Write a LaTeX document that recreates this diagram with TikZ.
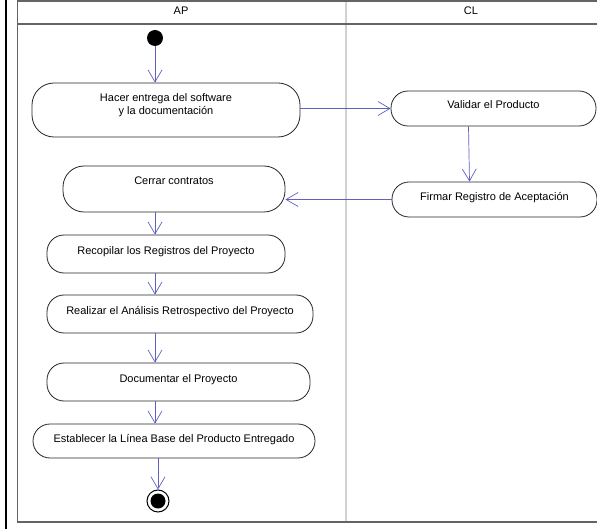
\documentclass[tikz,border=0pt]{standalone}
\usepackage{fontspec}
\setmainfont{Liberation Sans}
\usetikzlibrary{arrows.meta}
\definecolor{flujo}{RGB}{96,96,192}
\definecolor{marco}{RGB}{100,100,100}
\begin{document}
\begin{tikzpicture}[x=1pt,y=-1pt,font=\fontsize{11}{13}\selectfont,
  accion/.style={draw=black!85,fill=white,rounded corners=17pt,align=center,inner sep=0pt,line width=0.8pt,text depth=7pt},
  flecha/.style={draw=flujo,line width=0.7pt,-{Straight Barb[length=12pt,width=14pt]}}]
\useasboundingbox (0,0) rectangle (597,529);
\fill[black] (4.8,0) rectangle (7.2,529);
\draw[black!18,line width=2pt] (346,1) -- (346,522);
\draw[marco,line width=1.5pt] (597,1) -- (17.5,1) -- (17.5,522) -- (597,522)  (17.5,24) -- (597,24);
\node (ap) at (181,11) {AP};
\node (cl) at (471,11) {CL};
\coordinate (eje) at (155,0);
\node[circle,fill=black,minimum size=16pt,inner sep=0pt] (inicio) at (155,38) {};
\node[accion,minimum width=268pt,minimum height=54pt,text depth=11pt,rounded corners=22pt] (hacer) at (166,110) {Hacer entrega del software\\y la documentaci\'on};
\node[accion,minimum width=205pt,minimum height=35pt] (validar) at (493.5,108.5) {Validar el Producto};
\node[accion,minimum width=222pt,minimum height=46pt,text depth=16pt,rounded corners=21pt] (cerrar) at (174,189) {Cerrar contratos};
\node[accion,minimum width=205pt,minimum height=35pt] (firmar) at (494.5,199.5) {Firmar Registro de Aceptaci\'on};
\node[accion,minimum width=238pt,minimum height=38pt] (recopilar) at (166,254) {Recopilar los Registros del Proyecto};
\node[accion,minimum width=266pt,minimum height=38pt] (realizar) at (180,314) {Realizar el An\'alisis Retrospectivo del Proyecto};
\node[accion,minimum width=263pt,minimum height=38pt] (documentar) at (178.5,382) {Documentar el Proyecto};
\node[accion,minimum width=282pt,minimum height=34pt,text depth=5pt] (establecer) at (174,441) {Establecer la L\'inea Base del Producto Entregado};
\node[circle,draw=black,line width=1pt,minimum size=22pt,inner sep=0pt] (fin) at (158,501) {};
\fill[black] (fin.center) circle (7.5pt);
\draw[flecha] (inicio) -- (inicio |- hacer.north);
\draw[flecha] (validar.west -| hacer.east) -- (validar.west);
\draw[flecha] ([xshift=-25pt]validar.south) -- ([xshift=-25pt]firmar.north);
\draw[flecha] (firmar.west) -- (firmar.west -| cerrar.east);
\foreach \a/\b in {cerrar/recopilar,recopilar/realizar,realizar/documentar,documentar/establecer}{\draw[flecha] (\a.south -| eje) -- (\b.north -| eje);}
\draw[flecha] (establecer.south -| fin) -- (fin.north);
\end{tikzpicture}
\end{document}
